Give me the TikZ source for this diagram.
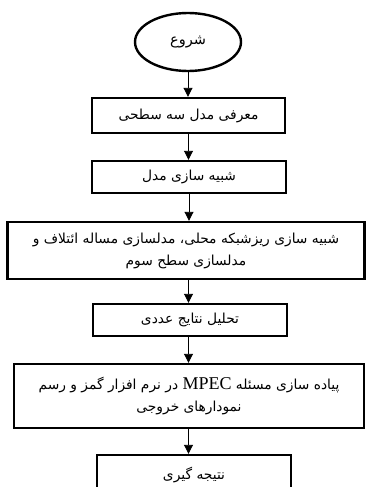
\documentclass[tikz,border=0pt]{standalone}
\usepackage{fontspec}
\usetikzlibrary{arrows.meta,shapes.geometric}
\TeXXeTstate=1
\newfontfamily\fa[Script=Arabic]{DejaVu Sans}
\newfontfamily\lat{Liberation Serif}
\tikzset{
  stepbox/.style={draw, line width=2.4pt, rectangle, inner sep=0pt, align=center,
    font=\fa\fontsize{13.8}{22}\selectfont},
  startnode/.style={draw, line width=2.4pt, ellipse, inner sep=0pt,
    minimum width=106pt, minimum height=58pt, font=\fa\fontsize{14.5}{16}\selectfont},
  flow/.style={line width=0.9pt, -{Triangle[width=9pt,length=9pt]}}
}
\begin{document}
\begin{tikzpicture}[x=1pt,y=-1pt]
\useasboundingbox (0,0) rectangle (366,487);
\node[startnode] (s) at (188,42) {\beginR شروع\endR};
\node[stepbox, minimum width=193pt, minimum height=35pt] (b1) at (188.5,115.5) {\beginR معرفی مدل سه سطحی\endR};
\node[stepbox, minimum width=194pt, minimum height=32pt] (b2) at (189,177) {\beginR شبیه سازی مدل\endR};
\node[stepbox, minimum width=357pt, minimum height=57pt] (b3) at (186,250.5) {\beginR شبیه سازی ریزشبکه محلی، مدلسازی مساله ائتلاف و\endR\\\beginR مدلسازی سطح سوم\endR};
\node[stepbox, minimum width=194pt, minimum height=32pt] (b4) at (190,320) {\beginR تحلیل نتایج عددی\endR};
\node[stepbox, minimum width=350pt, minimum height=64pt] (b5) at (189,396) {\beginR پیاده سازی مسئله \beginL{\lat\fontsize{18}{20}\selectfont MPEC}\endL{} در نرم افزار گمز و رسم\endR\\\beginR نمودارهای خروجی\endR};
\node[stepbox, minimum width=194pt, minimum height=40pt] (b6) at (194,475) {\beginR نتیجه گیری\endR};
\draw[flow] (s.south) -- (s.south |- b1.north);
\draw[flow] (b1.south) -- (b1.south |- b2.north);
\draw[flow] (b2.south) -- (b2.south |- b3.north);
\draw[flow] (b1.south |- b3.south) -- (b1.south |- b4.north);
\draw[flow] (b1.south |- b4.south) -- (b1.south |- b5.north);
\draw[flow] (b1.south |- b5.south) -- (b1.south |- b6.north);
\end{tikzpicture}
\end{document}
